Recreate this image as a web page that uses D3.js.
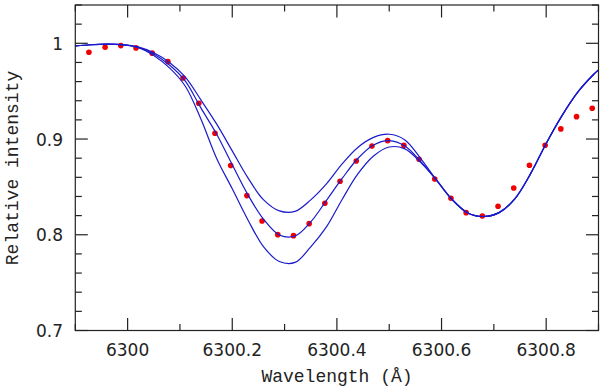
<!DOCTYPE html>
<html>
<head>
<meta charset="utf-8">
<script src="https://cdn.jsdelivr.net/npm/d3@7"></script>
<style>
  body { margin: 0; background: #fff; }
  svg { display: block; }
  .tick-label { font-family: "DejaVu Sans", sans-serif; font-size: 17px; fill: #222; }
  .axis-label { font-family: "Liberation Mono", monospace; font-size: 18px; fill: #222; }
</style>
</head>
<body>
<div id="chart"></div>
<script>
// observed points (wavelength, relative intensity)
const obsWave = [6299.926, 6299.957, 6299.987, 6300.016, 6300.047, 6300.077, 6300.106, 6300.136,
  6300.167, 6300.197, 6300.228, 6300.257, 6300.287, 6300.317, 6300.347, 6300.377, 6300.406,
  6300.437, 6300.467, 6300.497, 6300.528, 6300.557, 6300.587, 6300.618, 6300.647, 6300.678,
  6300.708, 6300.738, 6300.768, 6300.798, 6300.828, 6300.858, 6300.888];
const obsInt = [0.9907, 0.9959, 0.9976, 0.9952, 0.9897, 0.9809, 0.9638, 0.9374,
  0.9061, 0.8724, 0.8409, 0.8144, 0.8001, 0.7991, 0.8116, 0.8329, 0.8559,
  0.8771, 0.8926, 0.8983, 0.8935, 0.8789, 0.8583, 0.8381, 0.8231, 0.8196,
  0.8298, 0.8489, 0.8726, 0.8935, 0.9106, 0.9234, 0.9322];

// synthetic profiles, sampled every 0.03 A
const synWave = [6299.90, 6299.93, 6299.96, 6299.99, 6300.02, 6300.05, 6300.08, 6300.11,
  6300.14, 6300.17, 6300.20, 6300.23, 6300.26, 6300.29, 6300.32, 6300.35, 6300.38,
  6300.41, 6300.44, 6300.47, 6300.50, 6300.53, 6300.56, 6300.59, 6300.62, 6300.65,
  6300.68, 6300.71, 6300.74, 6300.77, 6300.80, 6300.83, 6300.86, 6300.89, 6300.90];
const synMid = [0.9973, 0.9985, 0.9991, 0.9985, 0.9959, 0.9889, 0.9774, 0.9607,
  0.9325, 0.9053, 0.8731, 0.8417, 0.8161, 0.7998, 0.7987, 0.8134, 0.8359,
  0.8588, 0.8797, 0.8938, 0.8984, 0.8928, 0.8766, 0.8573, 0.8369, 0.8228,
  0.8191, 0.8231, 0.8374, 0.8636, 0.8954, 0.9242, 0.9487, 0.9671, 0.9722];
const synHigh = [0.9973, 0.9985, 0.9991, 0.9987, 0.9963, 0.9901, 0.9800, 0.9649,
  0.9409, 0.9158, 0.8876, 0.8594, 0.8364, 0.8249, 0.8244, 0.8364, 0.8531,
  0.8740, 0.8912, 0.9017, 0.9050, 0.8991, 0.8797, 0.8573, 0.8369, 0.8228,
  0.8191, 0.8231, 0.8374, 0.8636, 0.8954, 0.9242, 0.9487, 0.9671, 0.9722];
const synLow = [0.9973, 0.9985, 0.9991, 0.9984, 0.9955, 0.9873, 0.9743, 0.9554,
  0.9210, 0.8800, 0.8480, 0.8155, 0.7873, 0.7721, 0.7711, 0.7873, 0.8082,
  0.8369, 0.8635, 0.8823, 0.8917, 0.8897, 0.8756, 0.8573, 0.8369, 0.8228,
  0.8191, 0.8231, 0.8374, 0.8636, 0.8954, 0.9242, 0.9487, 0.9671, 0.9722];

const xMajor = [6300, 6300.2, 6300.4, 6300.6, 6300.8];
const xMinor = [6299.9, 6300.1, 6300.3, 6300.5, 6300.7, 6300.9];
const yMajor = [0.7, 0.8, 0.9, 1];
const yMinor = [0.72, 0.74, 0.76, 0.78, 0.82, 0.84, 0.86, 0.88, 0.92, 0.94, 0.96, 0.98, 1.02, 1.04];

const width = 600, height = 389;
const mLeft = 75.3, mRight = 598.5, mTop = 5, mBottom = 330.5;

const svg = d3.select("#chart").append("svg")
    .attr("width", width)
    .attr("height", height);

const x = d3.scaleLinear().domain([6299.9, 6300.9]).range([mLeft, mRight]);
const y = d3.scaleLinear().domain([0.7, 1.04]).range([mBottom, mTop]);

const plot = svg.append("g");

// points first, lines drawn over them
plot.selectAll("circle")
  .data(obsWave.map((w, i) => [w, obsInt[i]]))
  .join("circle")
    .attr("cx", d => x(d[0]))
    .attr("cy", d => y(d[1]))
    .attr("r", 2.8)
    .attr("fill", "#f00000");

const line = d3.line()
    .x(d => x(d[0]))
    .y(d => y(d[1]))
    .curve(d3.curveCatmullRom);

[synHigh, synMid, synLow].forEach(s => {
  plot.append("path")
    .datum(synWave.map((w, i) => [w, s[i]]))
    .attr("fill", "none")
    .attr("stroke", "#1a1acc")
    .attr("stroke-width", 1.2)
    .attr("d", line);
});

// frame with inward ticks on all sides
const frame = svg.append("g").attr("stroke", "#222").attr("stroke-width", 1.2);
frame.append("rect")
    .attr("x", mLeft).attr("y", mTop)
    .attr("width", mRight - mLeft).attr("height", mBottom - mTop)
    .attr("fill", "none");

function xTicks(vals, len) {
  vals.forEach(v => {
    frame.append("line").attr("x1", x(v)).attr("x2", x(v)).attr("y1", mBottom).attr("y2", mBottom - len);
    frame.append("line").attr("x1", x(v)).attr("x2", x(v)).attr("y1", mTop).attr("y2", mTop + len);
  });
}
function yTicks(vals, len) {
  vals.forEach(v => {
    frame.append("line").attr("y1", y(v)).attr("y2", y(v)).attr("x1", mLeft).attr("x2", mLeft + len);
    frame.append("line").attr("y1", y(v)).attr("y2", y(v)).attr("x1", mRight).attr("x2", mRight - len);
  });
}
xTicks(xMajor, 12.5);
xTicks(xMinor, 6.5);
yTicks(yMajor, 12.5);
yTicks(yMinor, 6.5);

svg.selectAll(".xl")
  .data(xMajor)
  .join("text")
    .attr("class", "tick-label")
    .attr("x", d => x(d))
    .attr("y", 356)
    .attr("text-anchor", "middle")
    .text(d => d3.format("")(d));

svg.selectAll(".yl")
  .data(yMajor)
  .join("text")
    .attr("class", "tick-label")
    .attr("x", 63)
    .attr("y", d => y(d) + 6.5)
    .attr("text-anchor", "end")
    .text(d => d3.format("")(d));

svg.append("text")
    .attr("class", "axis-label")
    .attr("x", 337)
    .attr("y", 382)
    .attr("text-anchor", "middle")
    .text("Wavelength (Å)");

svg.append("text")
    .attr("class", "axis-label")
    .attr("transform", "translate(18,168) rotate(-90)")
    .attr("text-anchor", "middle")
    .attr("font-size", 17)
    .text("Relative intensity");
</script>
</body>
</html>
